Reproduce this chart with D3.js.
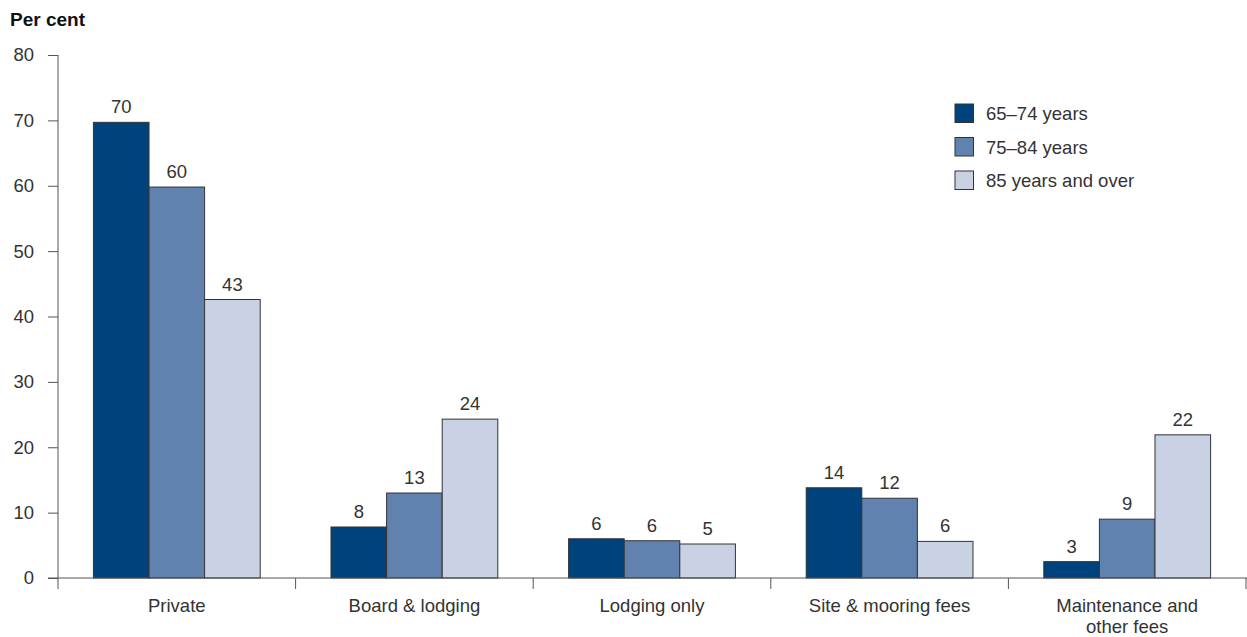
<!DOCTYPE html>
<html lang="en">
<head>
  <meta charset="UTF-8">
  <title>Tenure type by age group</title>
  <script src="https://d3js.org/d3.v7.min.js"></script>
  <style>
    body { margin: 0; background: #fff; }
    svg { font-family: "Liberation Sans", Arial, sans-serif; }
  </style>
</head>
<body>
  <script>
    const categories = ["Private", "Board & lodging", "Lodging only", "Site & mooring fees", "Maintenance and other fees"];
    const series = ["65–74 years", "75–84 years", "85 years and over"];
    const values = [
      [69.7, 7.8, 6.0, 13.8, 2.5],
      [59.8, 13.0, 5.7, 12.2, 9.0],
      [42.6, 24.3, 5.2, 5.6, 21.9]
    ];
    const labels = [
      [70, 8, 6, 14, 3],
      [60, 13, 6, 12, 9],
      [43, 24, 5, 6, 22]
    ];
    const yTicks = [0, 10, 20, 30, 40, 50, 60, 70, 80];
    const colors = ["#00437c", "#6181ae", "#c9d2e5"];

    const width = 1247, height = 637;
    const margin = { left: 58, right: 1, top: 55, bottom: 59 };
    const fs = 18.5;

    const svg = d3.select("body").append("svg")
      .attr("width", width)
      .attr("height", height);

    const x = d3.scaleBand()
      .domain(categories)
      .range([margin.left, width - margin.right])
      .paddingInner(0)
      .paddingOuter(0);

    const inner = d3.scaleBand()
      .domain(series)
      .range([0, x.bandwidth() * 0.702])
      .padding(0);

    const y = d3.scaleLinear()
      .domain([0, 80])
      .range([height - margin.bottom, margin.top]);

    // y axis
    const yAxis = svg.append("g")
      .attr("transform", `translate(${margin.left},0)`)
      .call(d3.axisLeft(y).tickValues(yTicks).tickSize(10).tickPadding(14));
    yAxis.select(".domain").attr("stroke", "#555").attr("d", `M0,${y(80)}V${y(0)}`);
    yAxis.selectAll(".tick line").attr("stroke", "#555");
    yAxis.selectAll(".tick text").attr("font-size", fs).attr("fill", "#333")
      .attr("font-family", "Liberation Sans, Arial, sans-serif");

    // title
    svg.append("text")
      .attr("x", 10).attr("y", 26)
      .attr("font-size", 19).attr("font-weight", "bold").attr("fill", "#111")
      .text("Per cent");

    // bars
    const groupOffset = (x.bandwidth() - inner.range()[1]) / 2;
    const groups = svg.append("g").selectAll("g")
      .data(categories)
      .join("g")
      .attr("transform", d => `translate(${x(d) + groupOffset},0)`);

    groups.selectAll("rect")
      .data((d, i) => series.map((s, j) => ({ s, j, v: values[j][i], l: labels[j][i] })))
      .join("rect")
      .attr("x", d => inner(d.s))
      .attr("y", d => y(d.v))
      .attr("width", inner.bandwidth())
      .attr("height", d => y(0) - y(d.v))
      .attr("fill", d => colors[d.j])
      .attr("stroke", "#333")
      .attr("stroke-width", 1);

    groups.selectAll("text")
      .data((d, i) => series.map((s, j) => ({ s, j, v: values[j][i], l: labels[j][i] })))
      .join("text")
      .attr("x", d => inner(d.s) + inner.bandwidth() / 2)
      .attr("y", d => y(d.v) - 9)
      .attr("text-anchor", "middle")
      .attr("font-size", fs).attr("fill", "#333")
      .text(d => d.l);

    // x axis baseline + category ticks
    svg.append("line")
      .attr("x1", margin.left - 10).attr("x2", width)
      .attr("y1", y(0)).attr("y2", y(0))
      .attr("stroke", "#555");

    const xTickPos = categories.map(c => x(c)).concat([x.range()[1]]);
    svg.append("g").selectAll("line")
      .data(xTickPos)
      .join("line")
      .attr("x1", d => d).attr("x2", d => d)
      .attr("y1", y(0)).attr("y2", y(0) + 11)
      .attr("stroke", "#555");

    const catLines = {
      "Maintenance and other fees": ["Maintenance and", "other fees"]
    };
    const xLabels = svg.append("g").selectAll("text")
      .data(categories)
      .join("text")
      .attr("x", d => x(d) + x.bandwidth() / 2)
      .attr("y", y(0) + 34)
      .attr("text-anchor", "middle")
      .attr("font-size", fs).attr("fill", "#333");
    xLabels.selectAll("tspan")
      .data(d => catLines[d] || [d])
      .join("tspan")
      .attr("x", function () { return d3.select(this.parentNode).attr("x"); })
      .attr("dy", (d, i) => i === 0 ? 0 : 21)
      .text(d => d);

    // legend
    const legend = svg.append("g")
      .attr("transform", "translate(955,104)");
    const item = legend.selectAll("g")
      .data(series)
      .join("g")
      .attr("transform", (d, i) => `translate(0,${i * 33.5})`);
    item.append("rect")
      .attr("width", 18.5).attr("height", 18.5)
      .attr("fill", (d, i) => colors[i])
      .attr("stroke", "#333");
    item.append("text")
      .attr("x", 31).attr("y", 16)
      .attr("font-size", fs).attr("fill", "#333")
      .text(d => d);
  </script>
</body>
</html>
